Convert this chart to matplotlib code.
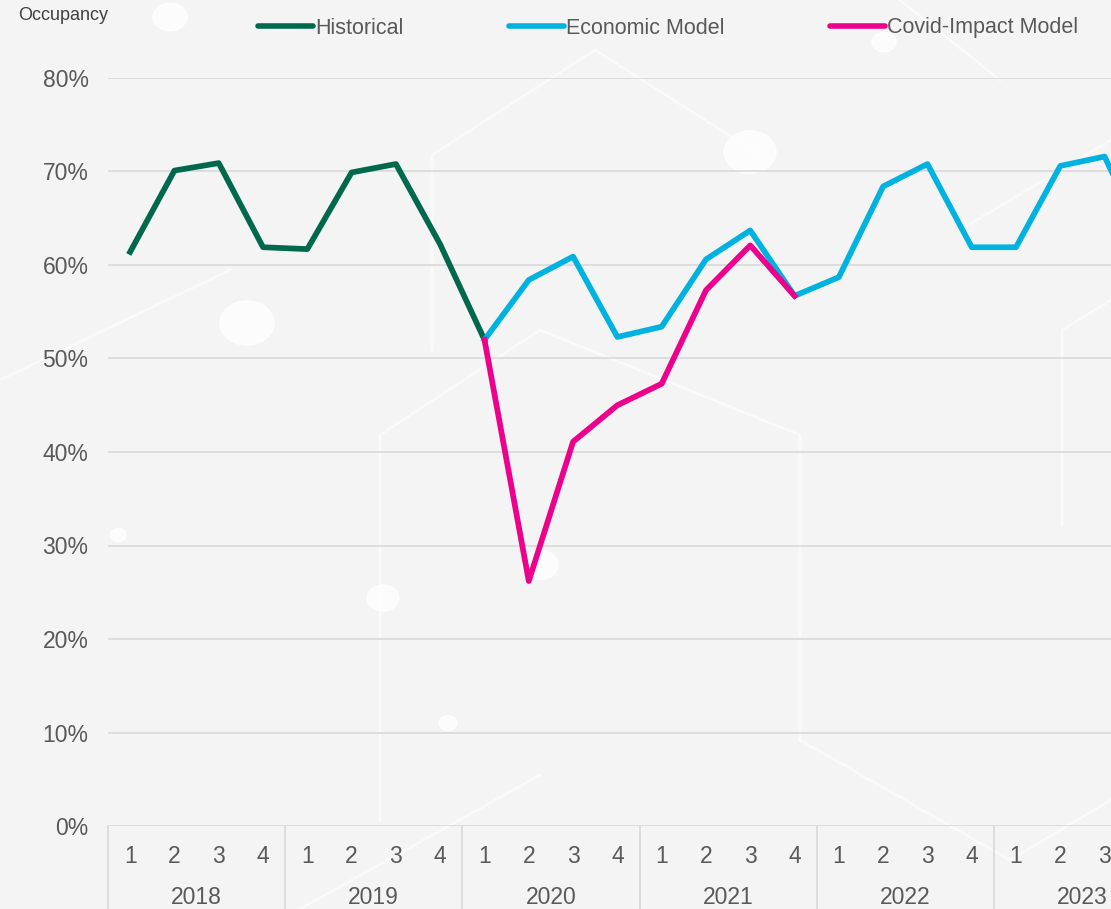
import matplotlib.pyplot as plt
import numpy as np
from matplotlib.lines import Line2D
from matplotlib.patches import Circle

# data
years = ['2018', '2019', '2020', '2021', '2022', '2023']
quarters = ['1', '2', '3', '4']
historical = [61.4, 70.1, 70.9, 61.9, 61.7, 69.9, 70.8, 62.2, 52.0]
economic = [52.0, 58.4, 60.9, 52.3, 53.4, 60.6, 63.7, 56.7,
            58.7, 68.4, 70.8, 61.9, 61.9, 70.6, 71.6, 61.5]
covid = [52.0, 26.2, 41.1, 45.0, 47.3, 57.3, 62.1, 56.7]

hist_start = 0
econ_start = 8
covid_start = 8

# style
text_color = '#595959'
grid_color = '#D9D9D9'
c_hist = '#00694B'
c_econ = '#00B2DF'
c_covid = '#EC008C'
lw = 4.1

plt.rcParams.update({'font.family': ['Liberation Sans', 'DejaVu Sans'],
                     'font.size': 16.5})

fig = plt.figure(figsize=(11.11, 9.09), dpi=100)
fig.patch.set_facecolor('#F4F4F4')

# faint background decoration (white circles and hexagon edges)
deco_circles = [(170, 17, 17), (750, 152, 26), (247, 323, 27), (383, 598, 16),
                (540, 565, 18), (448, 723, 9), (118, 535, 8), (884, 42, 12)]
for cx, cy, r in deco_circles:
    fig.patches.append(Circle((cx / 1111, 1 - cy / 909), r / 1111,
                              transform=fig.transFigure, color='white',
                              alpha=0.75, zorder=-5))
deco_lines = [[(432, 350), (432, 155), (595, 50), (760, 155)],
              [(380, 820), (380, 435), (540, 330), (800, 435), (800, 740)],
              [(1062, 525), (1062, 330), (1111, 300)],
              [(540, 775), (300, 909)],
              [(800, 740), (1010, 860), (1111, 800)],
              [(0, 380), (230, 270)],
              [(900, 0), (1000, 80)],
              [(960, 230), (1111, 140)]]
for pts in deco_lines:
    xs = [p[0] / 1111 for p in pts]
    ys = [1 - p[1] / 909 for p in pts]
    fig.lines.append(Line2D(xs, ys, transform=fig.transFigure, color='white',
                            linewidth=2, alpha=0.55, zorder=-5))

ax = fig.add_axes([108 / 1111, 1 - 826 / 909, 1 - 108 / 1111, 748 / 909])
ax.set_facecolor('none')

n = len(years) * len(quarters)
x_hist = np.arange(hist_start, hist_start + len(historical))
x_econ = np.arange(econ_start, econ_start + len(economic))
x_covid = np.arange(covid_start, covid_start + len(covid))

ax.plot(x_hist, historical, color=c_hist, linewidth=lw, label='Historical',
        solid_joinstyle='round', zorder=3)
ax.plot(x_econ, economic, color=c_econ, linewidth=lw, label='Economic Model',
        solid_joinstyle='round', zorder=3)
ax.plot(x_covid, covid, color=c_covid, linewidth=lw, label='Covid-Impact Model',
        solid_joinstyle='round', zorder=4)

ax.set_xlim(-0.5, (1111 - 130) / 44.3)
ax.set_ylim(0, 80)
ax.set_yticks(np.arange(0, 81, 10))
ax.set_yticklabels(['{}%'.format(v) for v in range(0, 81, 10)])
ax.tick_params(axis='y', length=0, pad=14, colors=text_color, labelsize=16.5)
ax.set_xticks([])
ax.grid(axis='y', color=grid_color, linewidth=1.2)
ax.set_axisbelow(True)
for s in ax.spines.values():
    s.set_visible(False)

# category axis: quarters and years
for i in range(n):
    ax.text(i, -0.041, quarters[i % 4], transform=ax.get_xaxis_transform(),
            ha='center', va='center', color=text_color, fontsize=16.5)
for j, yr in enumerate(years):
    ax.text(j * 4 + 1.5, -0.0955, yr, transform=ax.get_xaxis_transform(),
            ha='center', va='center', color=text_color, fontsize=16.5)
    ax.plot([j * 4 - 0.5, j * 4 - 0.5], [0, -0.13], transform=ax.get_xaxis_transform(),
            color=grid_color, linewidth=1.2, clip_on=False)

fig.text(18 / 1111, 1 - 16 / 909, 'Occupancy', color='#404040', fontsize=13,
         ha='left', va='center')

leg = fig.legend(loc='center left', bbox_to_anchor=(258 / 1111, 1 - 28 / 909),
                 ncol=3, frameon=False, fontsize=15.5, handlelength=2.55,
                 handletextpad=0.1, columnspacing=4.9, borderaxespad=0,
                 borderpad=0)
for t in leg.get_texts():
    t.set_color(text_color)
for h in leg.legend_handles:
    h.set_linewidth(4.0)
    h.set_solid_capstyle('round')

fig.savefig('out.png', dpi=100, facecolor=fig.get_facecolor())
